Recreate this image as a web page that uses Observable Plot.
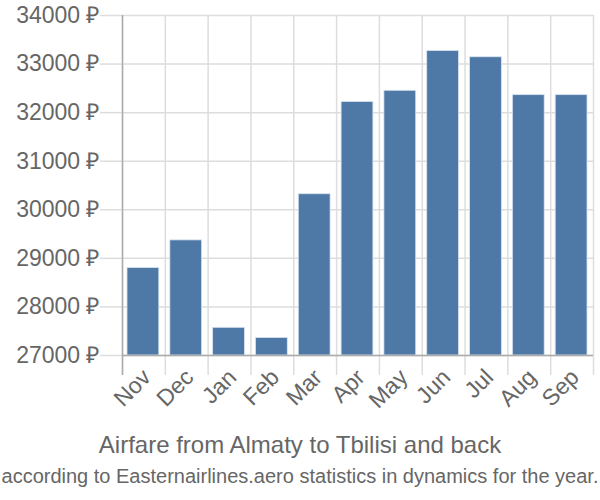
<!DOCTYPE html>
<html><head><meta charset="utf-8">
<script src="https://cdn.jsdelivr.net/npm/d3@7"></script>
<script src="https://cdn.jsdelivr.net/npm/@observablehq/plot@0.6"></script>
<style>
body{margin:0;background:#fff;font-family:"Liberation Sans",Arial,sans-serif;}
#wrap{position:relative;width:600px;height:500px;overflow:hidden;}
.title{position:absolute;left:0;width:600px;top:431px;text-align:center;font-size:24px;line-height:28px;color:#666;white-space:nowrap;}
.sub{position:absolute;left:-50px;width:700px;top:464px;text-align:center;font-size:20px;line-height:24px;color:#666;white-space:nowrap;}
</style></head><body>
<div id="wrap"><div id="chart"></div>
<div class="title">Airfare from Almaty to Tbilisi and back</div>
<div class="sub">according to Easternairlines.aero statistics in dynamics for the year.</div>
</div>
<script>
const months = ["Nov","Dec","Jan","Feb","Mar","Apr","May","Jun","Jul","Aug","Sep"];
const prices = [28800,29370,27570,27360,30320,32220,32450,33270,33140,32360,32360];
const yTicks = [27000,28000,29000,30000,31000,32000,33000,34000];
const data = months.map((m,i)=>({month:m, i, lo:27000, price:prices[i]}));
const edges = d3.range(months.length + 1);
const centers = months.map((m,i)=>i+0.5);
const chart = Plot.plot({
  width:600, height:420,
  marginLeft:122, marginRight:7, marginTop:15, marginBottom:65,
  style:{fontFamily:'"Liberation Sans",Arial,sans-serif', fontSize:"23px", color:"#666", background:"#fff", overflow:"visible"},
  x:{type:"linear", domain:[0, months.length], axis:null, label:null},
  y:{type:"linear", domain:[27000,34000], axis:null, label:null},
  marks:[
    Plot.gridY(yTicks,{stroke:"#ddd", strokeOpacity:1, strokeWidth:1.5}),
    Plot.gridX(edges,{stroke:"#ddd", strokeOpacity:1, strokeWidth:1.5}),
    Plot.rectY(data,{x1:"i", x2:d=>d.i+1, y1:"lo", y2:"price", fill:"#4e79a7", stroke:"#d8e3ef", strokeWidth:0.8, insetLeft:5, insetRight:6}),
    Plot.axisY(yTicks,{anchor:"left", tickSize:22, tickPadding:1, tickFormat:d=>d+" ₽", stroke:"#ddd", strokeOpacity:1, strokeWidth:1.5, fill:"#666", fontSize:23, label:null}),
    Plot.axisX(edges,{anchor:"bottom", tickSize:20, tickFormat:()=>"", stroke:"#ddd", strokeOpacity:1, strokeWidth:1.5, label:null}),
    Plot.axisX(centers,{anchor:"bottom", tickSize:0, tickPadding:18, tickRotate:-45, dx:3, tickFormat:d=>months[Math.floor(d)], fill:"#666", fontSize:23, label:null}),
    Plot.ruleY([27000],{stroke:"#aaa", strokeWidth:1.5}),
    Plot.ruleX([0],{y1:34000, y2:27000, stroke:"#aaa", strokeWidth:1.5}),
    Plot.ruleX([0],{y1:27000, y2:27000, insetBottom:-20, stroke:"#aaa", strokeWidth:1.5})
  ]
});
document.getElementById("chart").append(chart);
</script>
</body></html>
